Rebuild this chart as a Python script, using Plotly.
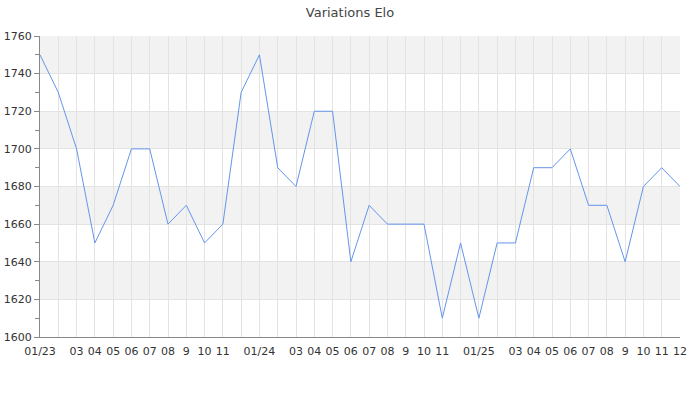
import plotly.graph_objects as go

months = [
    "2023-01", "2023-02", "2023-03", "2023-04", "2023-05", "2023-06",
    "2023-07", "2023-08", "2023-09", "2023-10", "2023-11", "2023-12",
    "2024-01", "2024-02", "2024-03", "2024-04", "2024-05", "2024-06",
    "2024-07", "2024-08", "2024-09", "2024-10", "2024-11", "2024-12",
    "2025-01", "2025-02", "2025-03", "2025-04", "2025-05", "2025-06",
    "2025-07", "2025-08", "2025-09", "2025-10", "2025-11", "2025-12",
]
elo = [
    1750, 1730, 1700, 1650, 1670, 1700, 1700, 1660, 1670, 1650, 1660, 1730,
    1750, 1690, 1680, 1720, 1720, 1640, 1670, 1660, 1660, 1660, 1610, 1650,
    1610, 1650, 1650, 1690, 1690, 1700, 1670, 1670, 1640, 1680, 1690, 1680,
]
tick_labels = [
    "01/23", "", "03", "04", "05", "06", "07", "08", "9", "10", "11", "",
    "01/24", "", "03", "04", "05", "06", "07", "08", "9", "10", "11", "",
    "01/25", "", "03", "04", "05", "06", "07", "08", "9", "10", "11", "12",
]
band_starts = [1620, 1660, 1700, 1740]
band_size = 20

fig = go.Figure()
fig.add_trace(go.Scatter(
    x=months, y=elo, mode="lines",
    line=dict(color="#6495ED", width=1),
    hoverinfo="x+y", showlegend=False,
))

for b in band_starts:
    fig.add_shape(type="rect", xref="paper", yref="y", x0=0, x1=1,
                  y0=b, y1=b + band_size, fillcolor="#f2f2f2",
                  line=dict(width=0), layer="below")

W, H = 700, 400
fig.update_layout(
    width=W, height=H,
    margin=dict(l=40, r=20, t=36, b=63, autoexpand=False),
    paper_bgcolor="white", plot_bgcolor="white",
    font=dict(family="DejaVu Sans", size=11, color="#333333"),
    title=dict(text="Variations Elo", x=0.5, xanchor="center",
               y=1 - 12 / H, yanchor="middle",
               font=dict(size=13, color="#444444")),
    xaxis=dict(
        type="category", range=[0, len(months) - 1],
        tickmode="array", tickvals=months, ticktext=tick_labels,
        showgrid=True, gridcolor="#e3e3e3", gridwidth=1,
        ticks="outside", ticklen=4, tickcolor="rgba(0,0,0,0)",
        showline=True, linecolor="#888888", linewidth=1,
        zeroline=False, automargin=False, tickangle=0,
        tickfont=dict(size=11, color="#333333"),
    ),
    yaxis=dict(
        range=[1600, 1760], dtick=20, tick0=1600,
        showgrid=True, gridcolor="#e3e3e3", gridwidth=1,
        ticks="outside", ticklen=5, tickcolor="#888888",
        minor=dict(dtick=10, ticks="outside", ticklen=4,
                   tickcolor="#888888", showgrid=False),
        showline=True, linecolor="#888888", linewidth=1,
        zeroline=False, automargin=False,
        tickfont=dict(size=11, color="#333333"),
    ),
)

fig.write_html(
    "out.html",
    config={"displayModeBar": False},
    post_script="document.body.style.margin='0';document.body.style.overflow='hidden';",
)
